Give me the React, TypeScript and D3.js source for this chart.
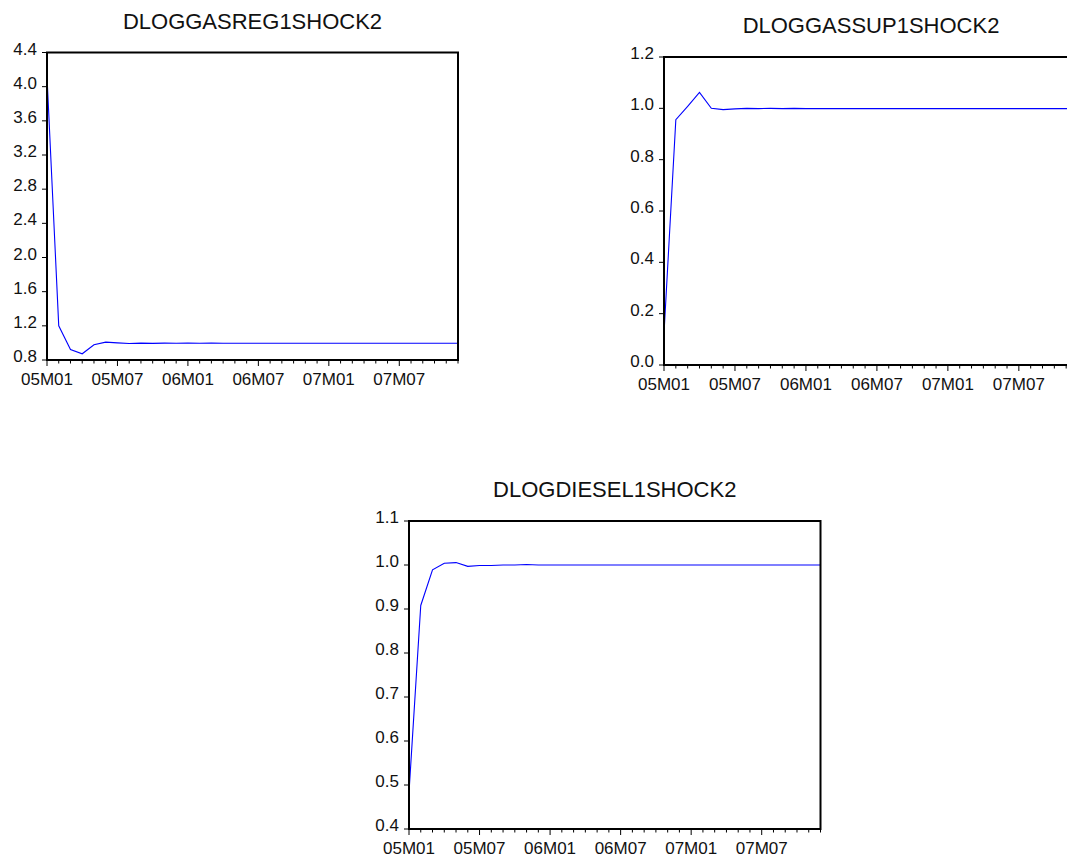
import React, { useRef, useEffect } from 'react';
import * as d3 from 'd3';

// monthly periods, 2005M01 .. 2007M12
const months = [
  '05M01', '05M02', '05M03', '05M04', '05M05', '05M06', '05M07', '05M08', '05M09', '05M10', '05M11', '05M12',
  '06M01', '06M02', '06M03', '06M04', '06M05', '06M06', '06M07', '06M08', '06M09', '06M10', '06M11', '06M12',
  '07M01', '07M02', '07M03', '07M04', '07M05', '07M06', '07M07', '07M08', '07M09', '07M10', '07M11', '07M12',
];
const majorLabels = ['05M01', '05M07', '06M01', '06M07', '07M01', '07M07'];

const gasRegValues = [
  4.12, 1.20, 0.923, 0.873, 0.978, 1.009, 1.000, 0.994, 0.998, 0.995, 0.997, 0.996,
  0.997, 0.996, 0.997, 0.996, 0.996, 0.996, 0.996, 0.996, 0.996, 0.996, 0.996, 0.996,
  0.996, 0.996, 0.996, 0.996, 0.996, 0.996, 0.996, 0.996, 0.996, 0.996, 0.996, 0.996,
];
const gasSupValues = [
  0.123, 0.956, 1.008, 1.062, 1.000, 0.995, 0.998, 1.000, 0.999, 1.000, 0.999, 1.000,
  0.999, 0.999, 0.999, 0.999, 0.999, 0.999, 0.999, 0.999, 0.999, 0.999, 0.999, 0.999,
  0.999, 0.999, 0.999, 0.999, 0.999, 0.999, 0.999, 0.999, 0.999, 0.999, 0.999, 0.999,
];
const dieselValues = [
  0.483, 0.908, 0.989, 1.004, 1.0055, 0.997, 0.999, 0.999, 1.000, 1.000, 1.001, 1.000,
  1.000, 1.000, 1.000, 1.000, 1.000, 1.000, 1.000, 1.000, 1.000, 1.000, 1.000, 1.000,
  1.000, 1.000, 1.000, 1.000, 1.000, 1.000, 1.000, 1.000, 1.000, 1.000, 1.000, 1.000,
];

const gasRegTicks = [0.8, 1.2, 1.6, 2.0, 2.4, 2.8, 3.2, 3.6, 4.0, 4.4];
const gasSupTicks = [0.0, 0.2, 0.4, 0.6, 0.8, 1.0, 1.2];
const dieselTicks = [0.4, 0.5, 0.6, 0.7, 0.8, 0.9, 1.0, 1.1];

const panels = [
  { title: 'DLOGGASREG1SHOCK2', values: gasRegValues, ticks: gasRegTicks, box: { x0: 47, x1: 458, y0: 52.5, y1: 360 } },
  { title: 'DLOGGASSUP1SHOCK2', values: gasSupValues, ticks: gasSupTicks, box: { x0: 664, x1: 1078, y0: 57, y1: 365 } },
  { title: 'DLOGDIESEL1SHOCK2', values: dieselValues, ticks: dieselTicks, box: { x0: 409, x1: 820.5, y0: 521, y1: 829 } },
];

const FONT = '"Liberation Sans", Arial, sans-serif';

const App = () => {
  const svgRef = useRef<SVGSVGElement>(null);

  useEffect(() => {
    document.body.style.margin = '0';
    document.body.style.overflow = 'hidden';

    const svg = d3.select(svgRef.current);
    svg.selectAll('*').remove();

    panels.forEach(p => {
      const { x0, x1, y0, y1 } = p.box;
      const x = d3.scalePoint<string>().domain(months).range([x0, x1]).padding(0);
      const y = d3.scaleLinear()
        .domain([p.ticks[0], p.ticks[p.ticks.length - 1]])
        .range([y1, y0]);

      const g = svg.append('g');

      // title
      g.append('text')
        .attr('x', (x0 + x1) / 2)
        .attr('y', y0 - 24)
        .attr('text-anchor', 'middle')
        .attr('font-family', FONT)
        .attr('font-size', '22px')
        .attr('fill', '#111')
        .text(p.title);

      // y ticks + labels
      p.ticks.forEach(t => {
        g.append('line')
          .attr('x1', x0 - 5).attr('x2', x0)
          .attr('y1', y(t)).attr('y2', y(t))
          .attr('stroke', '#000').attr('stroke-width', 1);
        g.append('text')
          .attr('x', x0 - 10)
          .attr('y', y(t) + 2)
          .attr('text-anchor', 'end')
          .attr('font-family', FONT)
          .attr('font-size', '17px')
          .attr('fill', '#111')
          .text(d3.format('.1f')(t));
      });

      // x ticks (monthly minor, half-yearly major)
      months.forEach(m => {
        const major = majorLabels.includes(m);
        g.append('line')
          .attr('x1', x(m)!).attr('x2', x(m)!)
          .attr('y1', y1).attr('y2', y1 + (major ? 6 : 3.5))
          .attr('stroke', '#000').attr('stroke-width', 1);
      });
      majorLabels.forEach(m => {
        g.append('text')
          .attr('x', x(m)!)
          .attr('y', y1 + 25)
          .attr('text-anchor', 'middle')
          .attr('font-family', FONT)
          .attr('font-size', '17px')
          .attr('fill', '#111')
          .text(m);
      });

      // series line
      const line = d3.line<number>()
        .x((_, i) => x(months[i])!)
        .y(d => y(d));
      g.append('path')
        .datum(p.values)
        .attr('d', line)
        .attr('fill', 'none')
        .attr('stroke', '#0000ff')
        .attr('stroke-width', 1.1);

      // frame
      g.append('rect')
        .attr('x', x0).attr('y', y0)
        .attr('width', x1 - x0).attr('height', y1 - y0)
        .attr('fill', 'none')
        .attr('stroke', '#000')
        .attr('stroke-width', 2);
    });
  }, []);

  return (
    <svg
      ref={svgRef}
      width={1067}
      height={857}
      style={{ position: 'absolute', left: 0, top: 0, background: '#fff' }}
    />
  );
};

export default App;
